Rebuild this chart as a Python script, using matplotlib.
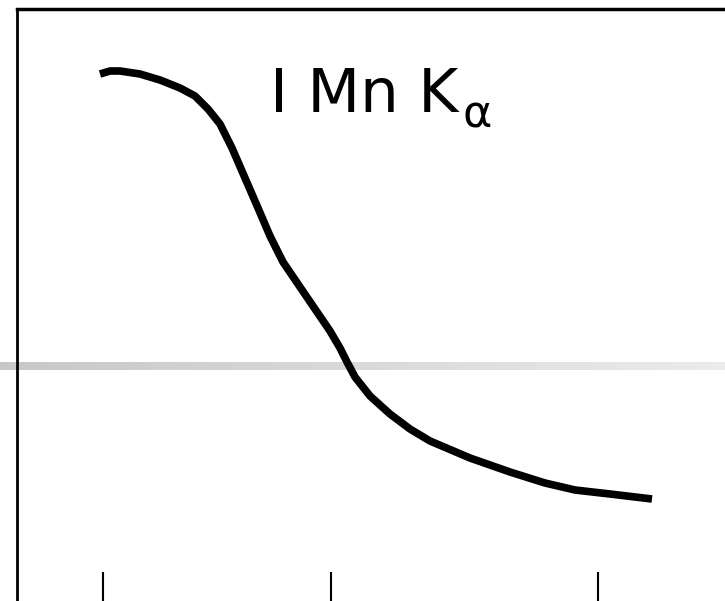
import matplotlib.pyplot as plt
import numpy as np

# curve (pixel-like units, y down)
x = [100, 110, 120, 140, 160, 180, 195, 208, 220, 232, 245, 258, 270, 283,
     300, 315, 330, 340, 347, 355, 370, 390, 410, 430, 470, 510, 545, 575, 610, 652]
y = [74, 71, 71, 74, 80, 88, 96, 109, 124, 148, 178, 208, 236, 262,
     287, 309, 331, 348, 362, 377, 396, 414, 429, 441, 458, 472, 483, 490, 494, 499]
ticks = [103, 331, 598]
label = "I Mn K"
sub = "\u03b1"

fig = plt.figure(figsize=(7.25, 6.01), dpi=100)
ax = fig.add_axes([0, 0, 1, 1])
ax.set_xlim(0, 725)
ax.set_ylim(601, 0)
ax.axis("off")

# gray band with soft gradient
grad = np.linspace(0.78, 0.92, 256).reshape(1, -1)
ax.imshow(grad, cmap="gray", vmin=0, vmax=1, extent=[0, 725, 370, 362], aspect="auto", zorder=1)

# frame (left and top)
ax.plot([17, 17], [601, 9], color="black", lw=2, zorder=2, solid_capstyle="projecting")
ax.plot([17, 725], [9, 9], color="black", lw=2.5, zorder=2)

ax.plot(x, y, color="black", lw=5.5, zorder=3, solid_capstyle="butt", solid_joinstyle="round")
ax.vlines(ticks, 572, 601, color="black", lw=1.5, zorder=2)

ax.text(270, 112, label, fontsize=44, family="DejaVu Sans", va="baseline", ha="left", zorder=4)
ax.text(463, 128, sub, fontsize=32, family="DejaVu Sans", va="baseline", ha="left", zorder=4)

fig.savefig("out.png", dpi=100)
